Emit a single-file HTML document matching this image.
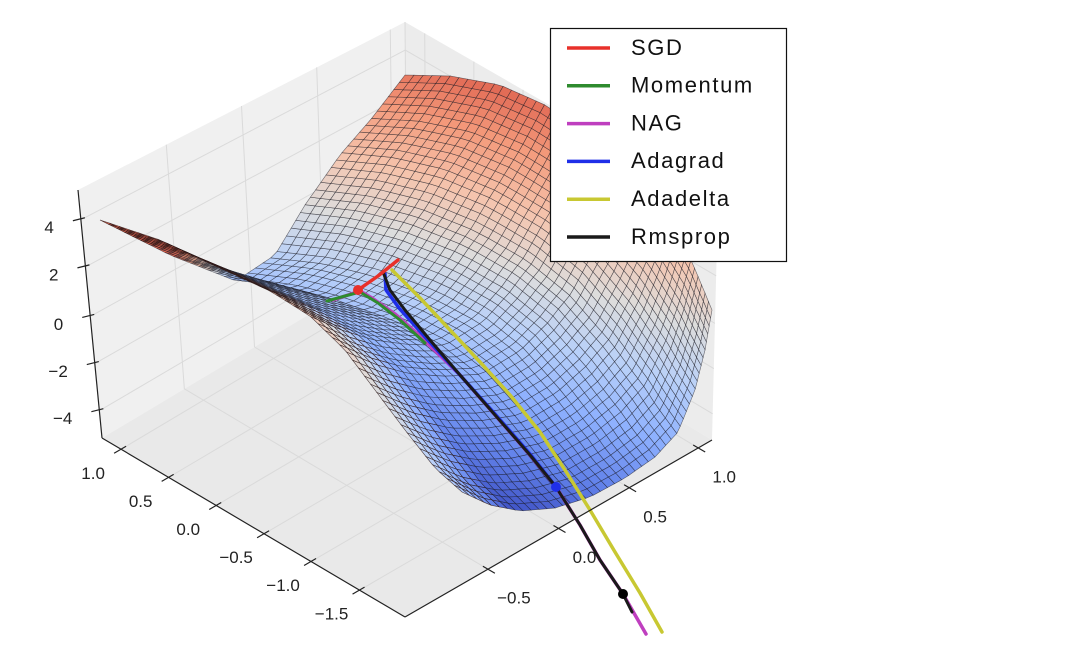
<!DOCTYPE html>
<html>
<head>
<meta charset="utf-8">
<style>
  html,body{margin:0;padding:0;background:#fff;}
  svg{display:block;font-family:"Liberation Sans","DejaVu Sans",sans-serif;}
</style>
</head>
<body>
<svg id="chart" width="1092" height="671" viewBox="0 0 1092 671" xmlns="http://www.w3.org/2000/svg">
  <g id="panes"></g>
  <g id="surface"></g>
  <g id="paths"></g>
  <g id="axes"></g>
  <g id="legend"></g>
</svg>
<script>
// ---------------- data ----------------
const zTicks = ["4","2","0","\u22122","\u22124"];
const xTicks = ["1.0","0.5","0.0","\u22120.5","\u22121.0","\u22121.5"];
const yTicks = ["1.0","0.5","0.0","\u22120.5"];
const seriesNames = ["SGD","Momentum","NAG","Adagrad","Adadelta","Rmsprop"];
const seriesColors = ["#e8302a","#2e8b2e","#bf3fbf","#1f2fe8","#c8c832","#1a1a1a"];

// optimizer trajectories (projected plane units)
const sgdX = [-0.02,0.18,0.38];
const sgdY = [0.00,-0.14,-0.30];
const momX = [-0.33,-0.15,0.00,0.18,0.40,0.65];
const momY = [0.11,0.06,0.02,0.13,0.30,0.53];
const nagX = [-0.27,0.00,0.12,0.35,0.60,1.00,1.35,1.70,1.96,2.20,2.40,2.63,2.86];
const nagY = [0.10,0.01,0.08,0.24,0.46,0.85,1.25,1.65,1.97,2.35,2.70,3.04,3.44];
const adagradX = [0.25,0.26,0.39,0.66,0.99,1.35,1.70,1.96];
const adagradY = [-0.16,0.00,0.18,0.48,0.84,1.24,1.64,1.97];
const adadeltaX = [0.32,0.60,0.90,1.20,1.50,1.80,2.05,2.30,2.55,2.80,3.02];
const adadeltaY = [-0.20,0.08,0.40,0.72,1.05,1.42,1.80,2.20,2.62,3.03,3.42];
const rmsX = [0.23,0.30,0.45,0.70,1.00,1.35,1.70,1.96,2.20,2.40,2.63,2.72];
const rmsY = [-0.18,0.00,0.20,0.50,0.85,1.25,1.65,1.97,2.35,2.70,3.04,3.22];

// ---------------- helpers ----------------
const NS = "http://www.w3.org/2000/svg";
function mk(tag, attrs, parent){
  const e = document.createElementNS(NS, tag);
  for (const k in attrs) e.setAttribute(k, attrs[k]);
  parent.appendChild(e);
  return e;
}
const px = x => 360 + 100*x;
const py = y => 290 + 100*y;

// ---------------- panes ----------------
const panes = document.getElementById('panes');
const Lb=[102,438], Lt=[78,190], Bb=[407,256], Bt=[405,22], Rb=[712,440], Rt=[718,202], Fb=[405,617];
function lerp(a,b,f){return [a[0]+(b[0]-a[0])*f, a[1]+(b[1]-a[1])*f];}
let p;
p = mk('polygon',{points:[Lb,Lt,Bt,Bb].map(q=>q.join(',')).join(' '),fill:'#f0f0f0',stroke:'none'},panes);
 
p = mk('polygon',{points:[Bb,Bt,Rt,Rb].map(q=>q.join(',')).join(' '),fill:'#ececec',stroke:'none'},panes);
 
p = mk('polygon',{points:[Lb,Bb,Rb,Fb].map(q=>q.join(',')).join(' '),fill:'#e9e9e9',stroke:'none'},panes);
 
const vFr=[0.27,0.5,0.73,0.955], uFr=[0.063,0.22,0.377,0.535,0.69,0.85], zFr=[0.11,0.3,0.49,0.69,0.88];
function gl(a,b){const e=mk('line',{x1:a[0],y1:a[1],x2:b[0],y2:b[1],stroke:'#dadada','stroke-width':1},panes);
   }
vFr.forEach(f=>{gl(lerp(Lb,Bb,f),lerp(Lt,Bt,f)); gl(lerp(Lb,Bb,f),lerp(Fb,Rb,f));});
uFr.forEach(f=>{gl(lerp(Bb,Rb,f),lerp(Bt,Rt,f)); gl(lerp(Bb,Rb,f),lerp(Lb,Fb,f));});
zFr.forEach(f=>{gl(lerp(Lb,Lt,f),lerp(Bb,Bt,f)); gl(lerp(Bb,Bt,f),lerp(Rb,Rt,f));});
gl(Bb,Bt);

// ---------------- surface (Coons patch) ----------------
const cLeft  = [[100,220],[160,240],[220,268],[270,291],[310,316],[345,350],[375,390],[405,430],[435,468],[462,492]];
const cBack  = [[405,75],[450,76],[500,85],[545,105],[590,135],[630,170],[665,215],[692,262],[712,310]];
const cTop   = [[100,220],[170,255],[236,281],[275,255],[305,205],[340,155],[372,118],[405,75]];
const cFront = [[462,492],[490,505],[520,511],[555,508],[590,497],[625,478],[655,457],[678,432],[695,390],[705,350],[712,310]];
function curveAt(c,f){
  const L=[0]; for(let i=1;i<c.length;i++) L.push(L[i-1]+Math.hypot(c[i][0]-c[i-1][0],c[i][1]-c[i-1][1]));
  const t=f*L[L.length-1];
  for(let i=1;i<c.length;i++){ if(t<=L[i]||i===c.length-1){const g=(t-L[i-1])/(L[i]-L[i-1]||1); return lerp(c[i-1],c[i],Math.max(0,Math.min(1,g)));} }
}
const S1=cLeft[0], S2=cBack[0], S3=cBack[cBack.length-1], S4=cFront[0];
function coons(u,w){
  const Lu=curveAt(cLeft,u), Ru=curveAt(cBack,u), Tw=curveAt(cTop,w), Bw=curveAt(cFront,w);
  const r=[0,0];
  for(let k=0;k<2;k++){
    r[k]=(1-w)*Lu[k]+w*Ru[k]+(1-u)*Tw[k]+u*Bw[k]
      -((1-u)*(1-w)*S1[k]+(1-u)*w*S2[k]+u*(1-w)*S4[k]+u*w*S3[k]);
  }
  return r;
}
const cwStops=[[0,[59,76,192]],[0.125,[98,130,234]],[0.25,[141,176,254]],[0.375,[184,208,249]],[0.5,[221,221,221]],[0.625,[245,196,173]],[0.75,[244,154,123]],[0.875,[222,96,77]],[1,[180,4,38]]];
function coolwarm(v){
  v=Math.max(0,Math.min(1,v));
  for(let i=1;i<cwStops.length;i++){ if(v<=cwStops[i][0]){const a=cwStops[i-1],b=cwStops[i];const f=(v-a[0])/(b[0]-a[0]);
    return 'rgb('+[0,1,2].map(k=>Math.round(a[1][k]+(b[1][k]-a[1][k])*f)).join(',')+')';}}
  return 'rgb(180,4,38)';
}
// colour level from projected height of the cell, plus the fold along the near edge
function level(pt,u,w){
  let v=0.5+(-(pt[1]-250)*0.9+(pt[0]-450)*0.28)/450;
  if(w<0.14){const f=(1-w/0.14)*(1-0.55*u); v=v*(1-f)+0.74*f;}
  if(pt[0]<235){const f=Math.min(1,(235-pt[0])/60); v=v*(1-f)+0.86*f;}
  return v;
}
const surf=document.getElementById('surface');
const N=46;
const grid=[];
for(let i=0;i<=N;i++){grid.push([]);for(let j=0;j<=N;j++) grid[i].push(coons(i/N,j/N));}
for(let i=0;i<N;i++){
  for(let j=0;j<N;j++){
    const q=[grid[i][j],grid[i][j+1],grid[i+1][j+1],grid[i+1][j]];
    const c=[(q[0][0]+q[1][0]+q[2][0]+q[3][0])/4,(q[0][1]+q[1][1]+q[2][1]+q[3][1])/4];
    const w=(j+0.5)/N;
    const poly=mk('polygon',{points:q.map(a=>a[0].toFixed(1)+','+a[1].toFixed(1)).join(' '),
      fill:coolwarm(level(c,(i+0.5)/N,w)),stroke:w<0.14?'rgba(40,20,20,0.8)':'rgba(20,20,30,0.6)','stroke-width':0.6},surf);
    
    
  }
}

// ---------------- trajectories ----------------
const paths=document.getElementById('paths');
function drawPath(xs,ys,color,w,name){
  const d=xs.map((x,i)=>(i?'L':'M')+px(x).toFixed(1)+','+py(ys[i]).toFixed(1)).join(' ');
  const e=mk('path',{d:d,fill:'none',stroke:color,'stroke-width':w,'stroke-linecap':'round','stroke-linejoin':'round'},paths);
  
  
}
function drawDot(x,y,color,name){
  const e=mk('circle',{cx:px(x),cy:py(y),r:5,fill:color},paths);
  
  
}
drawPath(adadeltaX,adadeltaY,seriesColors[4],3.5,'adadelta-path');
drawPath(nagX,nagY,seriesColors[2],3.5,'nag-path');
drawPath(momX,momY,seriesColors[1],3,'momentum-path');
drawPath(adagradX,adagradY,seriesColors[3],3.5,'adagrad-path');
drawPath(rmsX,rmsY,seriesColors[5],3,'rmsprop-path');
drawPath(sgdX,sgdY,seriesColors[0],3.5,'sgd-path');
drawDot(sgdX[0],sgdY[0],seriesColors[0],'sgd-marker');
drawDot(adagradX[adagradX.length-1],adagradY[adagradY.length-1],seriesColors[3],'adagrad-marker');
drawDot(rmsX[rmsX.length-2],rmsY[rmsY.length-2],'#000','rmsprop-marker');

// ---------------- axes ----------------
const axes=document.getElementById('axes');
function axLine(a,b,name){const e=mk('line',{x1:a[0],y1:a[1],x2:b[0],y2:b[1],stroke:'#222','stroke-width':1.2},axes);
   }
axLine(Lt,Lb,'z-axis-line'); axLine(Lb,Fb,'x-axis-line'); axLine(Fb,Rb,'y-axis-line');
function label(txt,x,y,anchor,name){const e=mk('text',{x:x,y:y,'font-size':17,fill:'#222','text-anchor':anchor,'dominant-baseline':'middle'},axes);
  e.textContent=txt;  }
zTicks.forEach((t,i)=>{
  const f=[0.88,0.69,0.49,0.30,0.11][i];
  const a=lerp(Lb,Lt,f);
  axLine([a[0]-8,a[1]+1],[a[0]+4,a[1]-2],'z-tick');
  label(t,a[0]-27,a[1]+9,'end','z-tick-label');
});
xTicks.forEach((t,i)=>{
  const f=[0.063,0.22,0.377,0.535,0.69,0.85][i];
  const a=lerp(Lb,Fb,f);
  axLine([a[0]-7,a[1]+4],[a[0]+5,a[1]-3],'x-tick');
  label(t,a[0]-28,a[1]+25,'middle','x-tick-label');
});
yTicks.forEach((t,i)=>{
  const f=[0.955,0.73,0.5,0.27][i];
  const a=lerp(Fb,Rb,f);
  axLine([a[0]-5,a[1]-3],[a[0]+7,a[1]+4],'y-tick');
  label(t,a[0]+26,a[1]+30,'middle','y-tick-label');
});

// ---------------- legend ----------------
const lg=document.getElementById('legend');
let r=mk('rect',{x:550.5,y:28.5,width:236,height:233,fill:'#fff',stroke:'#111','stroke-width':1.2},lg);
 
seriesNames.forEach((n,i)=>{
  const y=48+i*37.8;
  const l=mk('line',{x1:567,y1:y,x2:610,y2:y,stroke:seriesColors[i],'stroke-width':3.5},lg);
  
  
  const t=mk('text',{x:631,y:y+1,'font-size':22,'letter-spacing':1.6,fill:'#111','dominant-baseline':'middle'},lg);
  t.textContent=n;
  
  
});
</script>
</body>
</html>
